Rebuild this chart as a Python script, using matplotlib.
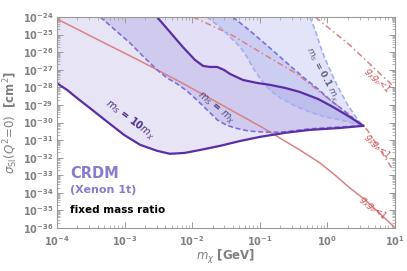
import matplotlib
matplotlib.use("Agg")
import matplotlib.pyplot as plt
import numpy as np
from matplotlib.ticker import LogLocator, NullFormatter

# ── curves (log10 of m_chi [GeV], log10 of sigma [cm^2]) ──
# ms = 10 m_chi  (solid)
a_low_lm = [-4.0, -3.85, -3.70, -3.51, -3.26, -3.01, -2.77, -2.52, -2.33, -2.11, -1.88,
            -1.59, -1.29, -1.0, -0.63, -0.26, 0.19, 0.53]
a_low_ls = [-27.77, -28.15, -28.62, -29.19, -29.95, -30.70, -31.27, -31.61, -31.78, -31.73,
            -31.56, -31.33, -31.05, -30.82, -30.59, -30.42, -30.31, -30.19]
a_up_lm = [-2.52, -2.33, -2.14, -1.96, -1.84, -1.74, -1.63, -1.53, -1.44, -1.25, -1.04,
           -0.85, -0.63, -0.41, -0.14, 0.08, 0.33, 0.53]
a_up_ls = [-24.0, -24.85, -25.70, -26.44, -26.78, -26.84, -26.84, -27.01, -27.24, -27.58,
           -27.75, -27.86, -28.03, -28.26, -28.66, -29.11, -29.68, -30.19]
# ms = m_chi  (dashed)
b_low_lm = [-3.36, -3.14, -2.92, -2.73, -2.52, -2.37, -2.22, -2.08, -1.93, -1.78, -1.63,
            -1.50, -1.37, -1.17, -1.0, -0.82, -0.63, -0.26, 0.19, 0.53]
b_low_ls = [-24.0, -24.74, -25.48, -26.22, -27.01, -27.47, -27.81, -28.20, -28.72, -29.28,
            -29.85, -30.14, -30.31, -30.48, -30.53, -30.56, -30.53, -30.36, -30.25, -30.19]
b_up_lm = [-1.40, -1.14, -0.85, -0.55, -0.36, -0.14, 0.04, 0.23, 0.41, 0.53]
b_up_ls = [-24.0, -24.80, -25.76, -26.78, -27.41, -28.09, -28.72, -29.28, -29.85, -30.19]
# ms = 0.1 m_chi  (light dashed)
c_low_lm = [-1.78, -1.59, -1.44, -1.29, -1.19, -1.10, -1.01, -0.92, -0.82, -0.70, -0.48,
            -0.26, -0.04, 0.19, 0.36, 0.53]
c_low_ls = [-24.0, -24.57, -25.14, -25.70, -26.27, -26.90, -27.41, -27.86, -28.26, -28.60,
            -29.06, -29.40, -29.68, -29.85, -30.02, -30.19]
c_up_lm = [-0.26, -0.18, -0.11, -0.04, 0.04, 0.14, 0.22, 0.30, 0.38, 0.45, 0.53]
c_up_ls = [-24.0, -24.74, -25.59, -26.33, -27.01, -27.86, -28.43, -29.0, -29.45, -29.85, -30.19]
# perturbativity g_chi g_p < 1
r1_lm = [-4.0, -3.36, -2.77, -2.18, -1.59, -0.95, -0.41, -0.11, 0.11, 0.33, 0.56, 0.78, 1.0]
r1_ls = [-24.11, -25.36, -26.5, -27.69, -28.94, -30.31, -31.56, -32.30, -32.98, -33.72,
         -34.40, -35.19, -35.99]
r2_lm = [-1.99, -1.44, -0.85, -0.45, 0.04, 0.33, 0.59, 0.78, 0.97]
r2_ls = [-24.0, -24.97, -26.33, -27.24, -28.72, -29.57, -30.42, -31.56, -32.69]
r3_lm = [-0.18, 0.33, 0.97]
r3_ls = [-24.0, -25.59, -27.92]

XMIN, XMAX = 1e-4, 1e1
YMIN, YMAX = 1e-36, 1e-24

FILL_A = "#8a7ad6"
FILL_B = "#7d6fd6"
FILL_C = "#8c98ea"
LINE_A = "#5a2ea6"
LINE_B = "#7c70d8"
LINE_C = "#a2b0f2"
RED = "#d98282"
RED_TXT = "#c95050"
DASH = (0, (3, 1.6))
DASHDOT = (0, (4, 2, 1, 2))


def p(lm, ls):
    return 10 ** np.asarray(lm, float), 10 ** np.asarray(ls, float)


fig = plt.figure(figsize=(4.07, 2.71), dpi=100)
ax = fig.add_axes([57 / 407, 1 - 228 / 271, 338 / 407, 211 / 271])
ax.set_xscale("log")
ax.set_yscale("log")

# region A: top-left corner, upper boundary, lower boundary back
ax_, ay_ = p(a_up_lm, a_up_ls)
lx_, ly_ = p(a_low_lm, a_low_ls)
ax.fill(np.concatenate([[XMIN], ax_, lx_[::-1]]), np.concatenate([[YMAX], ay_, ly_[::-1]]),
        color=FILL_A, alpha=0.2, lw=0)

bx1, by1 = p(b_low_lm, b_low_ls)
bx2, by2 = p(b_up_lm, b_up_ls)
ax.fill(np.concatenate([bx1, bx2[::-1]]), np.concatenate([by1, by2[::-1]]),
        color=FILL_B, alpha=0.22, lw=0)

cx1, cy1 = p(c_low_lm, c_low_ls)
cx2, cy2 = p(c_up_lm, c_up_ls)
ax.fill(np.concatenate([cx1, cx2[::-1]]), np.concatenate([cy1, cy2[::-1]]),
        color=FILL_C, alpha=0.25, lw=0)

ax.plot(*p(r1_lm, r1_ls), color=RED, lw=1.1)
ax.plot(*p(r2_lm, r2_ls), color=RED, lw=1.1, ls=DASHDOT)
ax.plot(*p(r3_lm, r3_ls), color=RED, lw=1.1, ls=DASHDOT)

ax.plot(cx1, cy1, color=LINE_C, lw=1.2, ls=DASH)
ax.plot(cx2, cy2, color=LINE_C, lw=1.2, ls=DASH)
ax.plot(bx1, by1, color=LINE_B, lw=1.2, ls=DASH)
ax.plot(bx2, by2, color=LINE_B, lw=1.2, ls=DASH)
ax.plot(ax_, ay_, color=LINE_A, lw=1.6)
ax.plot(lx_, ly_, color=LINE_A, lw=1.6)

# labels on the curves
ax.text(10 ** -2.93, 10 ** -29.85, r"$m_S$ = 10$m_\chi$", rotation=-37, color="#4b2a86",
        fontsize=7, fontweight="bold", ha="center", va="center")
ax.text(10 ** -1.66, 10 ** -29.17, r"$m_S$ = $m_\chi$", rotation=-39, color="#4f4a85",
        fontsize=7, fontweight="bold", ha="center", va="center")
ax.text(10 ** -0.08, 10 ** -27.3, r"$m_S$ = 0.1 $m_\chi$", rotation=-62, color="#606080",
        fontsize=6.5, fontweight="bold", ha="center", va="center")
for lm, ls, rot in [(0.73, -27.6, -45), (0.73, -31.4, -45), (0.66, -34.9, -40)]:
    ax.text(10 ** lm, 10 ** ls, r"$g_\chi g_p$<1", rotation=rot, color=RED_TXT,
            fontsize=6, ha="center", va="center")

ax.text(0.038, 0.237, "CRDM", transform=ax.transAxes, color="#8a7ad0",
        fontsize=10.5, fontweight="bold")
ax.text(0.038, 0.166, "(Xenon 1t)", transform=ax.transAxes, color="#8a7ad0",
        fontsize=8, fontweight="bold")
ax.text(0.038, 0.071, "fixed mass ratio", transform=ax.transAxes, color="black",
        fontsize=7.5, fontweight="bold")

ax.set_xlim(XMIN, XMAX)
ax.set_ylim(YMIN, YMAX)
ax.xaxis.set_major_locator(LogLocator(base=10, numticks=20))
ax.xaxis.set_minor_locator(LogLocator(base=10, subs=np.arange(2, 10), numticks=100))
ax.yaxis.set_major_locator(LogLocator(base=10, numticks=30))
ax.yaxis.set_minor_locator(LogLocator(base=10, subs=np.arange(2, 10), numticks=200))
ax.xaxis.set_minor_formatter(NullFormatter())
ax.yaxis.set_minor_formatter(NullFormatter())
ax.tick_params(which="both", direction="in", top=True, right=True, colors="#999999",
               labelcolor="#808080", labelsize=7)
ax.tick_params(which="major", length=4, width=0.7, pad=2.5)
ax.tick_params(axis="x", which="major", pad=4.5)
ax.tick_params(which="minor", length=2.2, width=0.5)
for lab in ax.get_xticklabels() + ax.get_yticklabels():
    lab.set_fontweight("bold")
for s in ax.spines.values():
    s.set_color("#999999")
    s.set_linewidth(0.8)

ax.set_xlabel(r"$m_\chi$ [GeV]", color="#808080", fontsize=8.5, fontweight="bold", labelpad=0)
ax.set_ylabel(r"$\sigma_{\rm SI}(Q^2\!=\!0)$  [cm$^2$]", color="#808080", fontsize=8.5,
              fontweight="bold", labelpad=2)

fig.savefig("out.png", dpi=100)
